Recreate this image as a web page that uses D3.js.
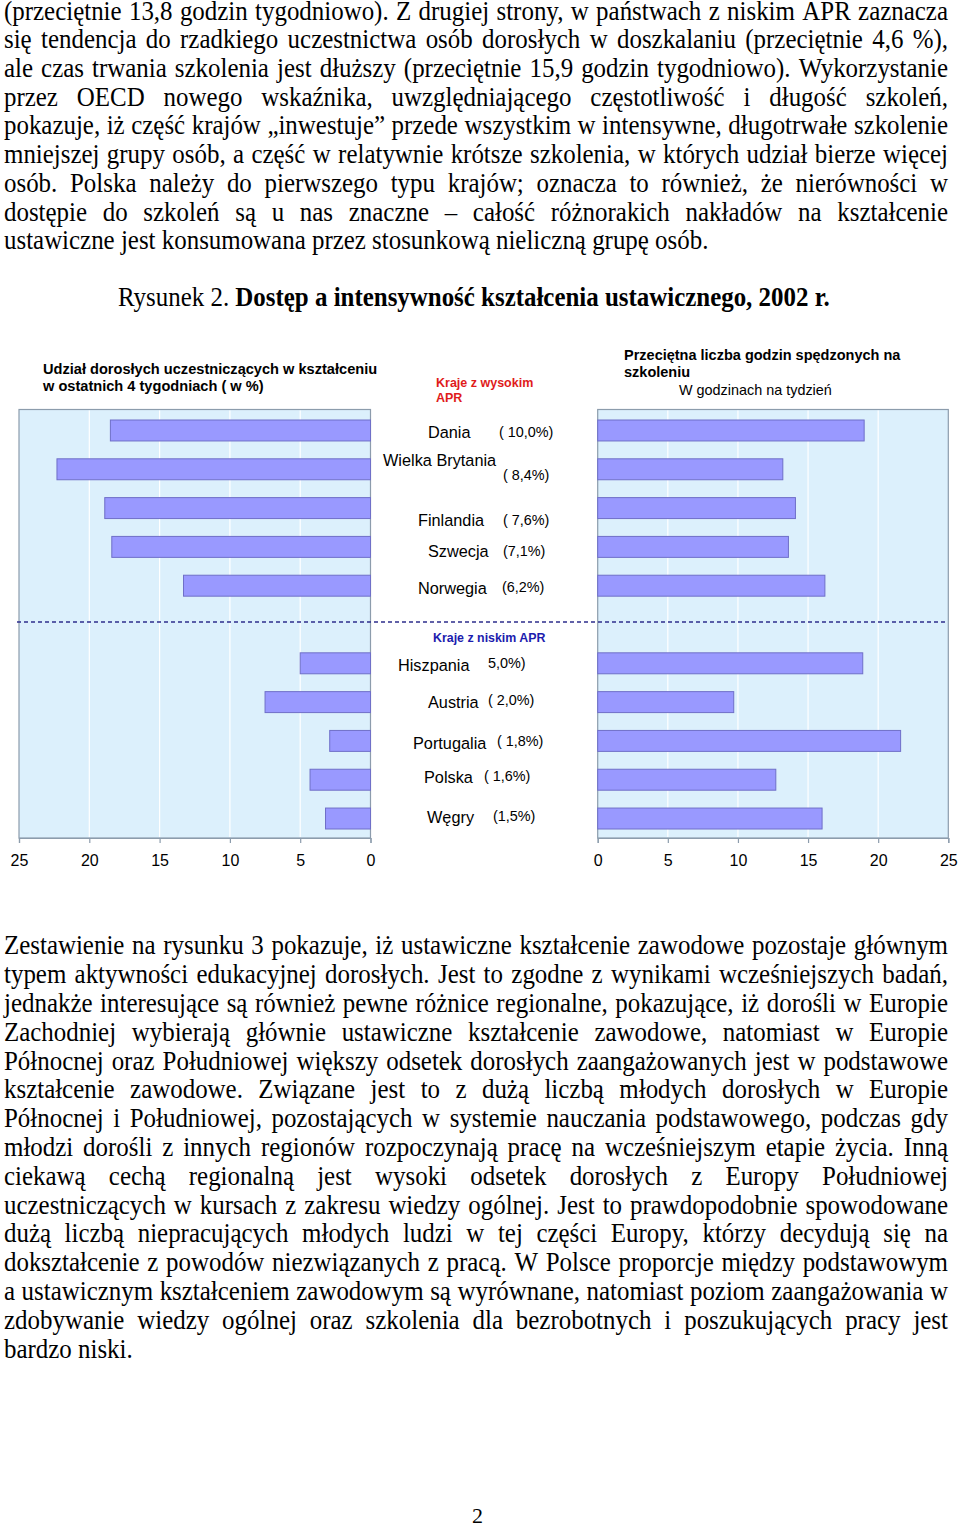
<!DOCTYPE html>
<html>
<head>
<meta charset="utf-8">
<script src="https://cdn.jsdelivr.net/npm/d3@7"></script>
<style>
  html, body { margin: 0; padding: 0; background: #fff; }
  body { width: 960px; height: 1524px; overflow: hidden; }
  svg { display: block; }
</style>
</head>
<body>
<svg id="page" width="960" height="1524"></svg>
<script>
// ---------------- DATA ----------------
const highCountries = ["Dania", "Wielka Brytania", "Finlandia", "Szwecja", "Norwegia"];
const lowCountries = ["Hiszpania", "Austria", "Portugalia", "Polska", "Węgry"];
const participationLabels = ["( 10,0%)", "( 8,4%)", "( 7,6%)", "(7,1%)", "(6,2%)",
                             "5,0%)", "( 2,0%)", "( 1,8%)", "( 1,6%)", "(1,5%)"];
// share of adults participating in last 4 weeks (left panel, %)
const shareValues = [18.5, 22.3, 18.9, 18.4, 13.3, 5.0, 7.5, 2.9, 4.3, 3.2];
// average hours per week spent in training (right panel)
const hoursValues = [19.0, 13.2, 14.1, 13.6, 16.2, 18.9, 9.7, 21.6, 12.7, 16.0];
const tickValues = [0, 5, 10, 15, 20, 25];
const gridValues = [5, 10, 15, 20];

const leftTitle = ["Udział dorosłych uczestniczących w kształceniu", "w ostatnich 4 tygodniach ( w %)"];
const rightTitle = ["Przeciętna liczba godzin spędzonych na", "szkoleniu"];
const rightSubtitle = "W godzinach na tydzień";
const highGroupLabel = ["Kraje z wysokim", "APR"];
const lowGroupLabel = "Kraje z niskim APR";

const paragraph1 = [
  "(przeciętnie 13,8 godzin tygodniowo). Z drugiej strony, w państwach z niskim APR zaznacza",
  "się tendencja do rzadkiego uczestnictwa osób dorosłych w doszkalaniu (przeciętnie 4,6 %),",
  "ale czas trwania szkolenia jest dłuższy (przeciętnie 15,9 godzin tygodniowo). Wykorzystanie",
  "przez OECD nowego wskaźnika, uwzględniającego częstotliwość i długość szkoleń,",
  "pokazuje, iż część krajów „inwestuje” przede wszystkim w intensywne, długotrwałe szkolenie",
  "mniejszej grupy osób, a część w relatywnie krótsze szkolenia, w których udział bierze więcej",
  "osób. Polska należy do pierwszego typu krajów; oznacza to również, że nierówności w",
  "dostępie do szkoleń są u nas znaczne – całość różnorakich nakładów na kształcenie",
  "ustawiczne jest konsumowana przez stosunkową nieliczną grupę osób."
];
const paragraph2 = [
  "Zestawienie na rysunku 3 pokazuje, iż ustawiczne kształcenie zawodowe pozostaje głównym",
  "typem aktywności edukacyjnej dorosłych. Jest to zgodne z wynikami wcześniejszych badań,",
  "jednakże interesujące są również pewne różnice regionalne, pokazujące, iż dorośli w Europie",
  "Zachodniej wybierają głównie ustawiczne kształcenie zawodowe, natomiast w Europie",
  "Północnej oraz Południowej większy odsetek dorosłych zaangażowanych jest w podstawowe",
  "kształcenie zawodowe. Związane jest to z dużą liczbą młodych dorosłych w Europie",
  "Północnej i Południowej, pozostających w systemie nauczania podstawowego, podczas gdy",
  "młodzi dorośli z innych regionów rozpoczynają pracę na wcześniejszym etapie życia. Inną",
  "ciekawą cechą regionalną jest wysoki odsetek dorosłych z Europy Południowej",
  "uczestniczących w kursach z zakresu wiedzy ogólnej. Jest to prawdopodobnie spowodowane",
  "dużą liczbą niepracujących młodych ludzi w tej części Europy, którzy decydują się na",
  "dokształcenie z powodów niezwiązanych z pracą. W Polsce proporcje między podstawowym",
  "a ustawicznym kształceniem zawodowym są wyrównane, natomiast poziom zaangażowania w",
  "zdobywanie wiedzy ogólnej oraz szkolenia dla bezrobotnych i poszukujących pracy jest",
  "bardzo niski."
];
const captionRegular = "Rysunek 2. ";
const captionBold = "Dostęp a intensywność kształcenia ustawicznego, 2002 r.";
const pageNumber = "2";

// ---------------- LAYOUT (positions / styles) ----------------
const labelLayout = {
  "Dania":           { x: 428, dy: 1.5,  px: 499, pdy: 1.5 },
  "Wielka Brytania": { x: 383, dy: -9.3, px: 503, pdy: 5.7 },
  "Finlandia":       { x: 418, dy: 12,   px: 503, pdy: 12 },
  "Szwecja":         { x: 428, dy: 4,    px: 503, pdy: 4 },
  "Norwegia":        { x: 418, dy: 2.3,  px: 502, pdy: 1.3 },
  "Hiszpania":       { x: 398, dy: 2,    px: 488, pdy: 0 },
  "Austria":         { x: 428, dy: 0,    px: 488, pdy: -2 },
  "Portugalia":      { x: 413, dy: 2,    px: 497, pdy: 0 },
  "Polska":          { x: 424, dy: -3,   px: 484, pdy: -4 },
  "Węgry":           { x: 427, dy: -1.7, px: 493, pdy: -2.7 }
};

const svg = d3.select("#page");
const SANS = "Arial, 'Liberation Sans', sans-serif";
const SERIF = "'Times New Roman', 'Liberation Serif', serif";
const barFill = "#9999ff", barStroke = "#6f6fc8";
const plotBg = "#dcf0fc", borderCol = "#8c9cac";

const plotTop = 409.5, plotBottom = 838;
const countries = highCountries.concat(["__gap__"], lowCountries);
const y = d3.scaleBand().domain(countries).range([420, 829]).paddingInner(0.46).paddingOuter(0);

const xL = d3.scaleLinear().domain([0, 25]).range([370.5, 19]);
const xR = d3.scaleLinear().domain([0, 25]).range([597.7, 948.3]);

const rows = highCountries.concat(lowCountries).map((c, i) => ({
  country: c, share: shareValues[i], hours: hoursValues[i], pct: participationLabels[i]
}));

function panel(x, valueKey) {
  const g = svg.append("g");
  const [r0, r1] = x.range();
  const xa = Math.min(r0, r1), xb = Math.max(r0, r1);
  g.append("rect").attr("x", xa).attr("y", plotTop).attr("width", xb - xa).attr("height", plotBottom - plotTop)
    .attr("fill", plotBg).attr("stroke", borderCol).attr("stroke-width", 1.2);
  g.selectAll("line.grid").data(gridValues).join("line").attr("class", "grid")
    .attr("x1", d => x(d)).attr("x2", d => x(d)).attr("y1", plotTop + 1).attr("y2", plotBottom - 1)
    .attr("stroke", "#ffffff").attr("stroke-width", 1.2);
  g.selectAll("rect.bar").data(rows).join("rect").attr("class", "bar")
    .attr("x", d => Math.min(x(0), x(d[valueKey])))
    .attr("width", d => Math.abs(x(d[valueKey]) - x(0)))
    .attr("y", d => y(d.country)).attr("height", y.bandwidth())
    .attr("fill", barFill).attr("stroke", barStroke).attr("stroke-width", 1);
  const axis = d3.axisBottom(x).tickValues(tickValues).tickSize(5).tickPadding(12).tickFormat(d3.format("d"));
  const ag = g.append("g").attr("transform", `translate(0,${plotBottom})`).call(axis);
  ag.select(".domain").attr("stroke", borderCol).attr("stroke-width", 1.2);
  ag.selectAll(".tick line").attr("stroke", borderCol).attr("stroke-width", 1.2);
  ag.selectAll(".tick text").attr("font-family", SANS).attr("font-size", 16).attr("fill", "#000");
}
panel(xL, "share");
panel(xR, "hours");

// dashed separator between the two country groups
const sepY = (y("Norwegia") + y.bandwidth() + y("Hiszpania")) / 2 - 2.5;
svg.append("line").attr("x1", 17).attr("x2", 946).attr("y1", sepY).attr("y2", sepY)
  .attr("stroke", "#2e2e8c").attr("stroke-width", 1.3).attr("stroke-dasharray", "4,3");

// country & percent labels
const lab = svg.append("g").attr("font-family", SANS).attr("fill", "#000");
lab.selectAll("text.country").data(rows).join("text").attr("class", "country")
  .attr("x", d => labelLayout[d.country].x)
  .attr("y", d => y(d.country) + y.bandwidth() / 2 + labelLayout[d.country].dy)
  .attr("dy", "0.36em").attr("font-size", 16.3).text(d => d.country);
lab.selectAll("text.pct").data(rows).join("text").attr("class", "pct")
  .attr("x", d => labelLayout[d.country].px)
  .attr("y", d => y(d.country) + y.bandwidth() / 2 + labelLayout[d.country].pdy)
  .attr("dy", "0.36em").attr("font-size", 14.4).text(d => d.pct);

// group labels
const hg = svg.append("text").attr("font-family", SANS).attr("font-weight", "bold").attr("font-size", 12.5).attr("fill", "#e01b1b");
hg.append("tspan").attr("x", 436).attr("y", 387).text(highGroupLabel[0]);
hg.append("tspan").attr("x", 436).attr("y", 402).text(highGroupLabel[1]);
svg.append("text").attr("x", 433).attr("y", 641.5).attr("font-family", SANS).attr("font-weight", "bold")
  .attr("font-size", 12.4).attr("fill", "#1c1cae").text(lowGroupLabel);

// panel titles
const lt = svg.append("text").attr("font-family", SANS).attr("font-weight", "bold").attr("font-size", 14.6).attr("fill", "#000");
lt.append("tspan").attr("x", 43).attr("y", 374).text(leftTitle[0]);
lt.append("tspan").attr("x", 43).attr("y", 391).text(leftTitle[1]);
const rt = svg.append("text").attr("font-family", SANS).attr("font-weight", "bold").attr("font-size", 14.5).attr("fill", "#000");
rt.append("tspan").attr("x", 624).attr("y", 359.5).attr("font-size", 14.5).text(rightTitle[0]);
rt.append("tspan").attr("x", 624).attr("y", 376.5).text(rightTitle[1]);
svg.append("text").attr("x", 679).attr("y", 394.5).attr("font-family", SANS).attr("font-size", 14.4)
  .attr("fill", "#000").text(rightSubtitle);

// ---------------- serif text (condensed Times look) ----------------
const BODY_FS = 28, SX = 0.89, LEFT = 4, RIGHT = 948;
const serifG = svg.append("g").attr("transform", `scale(${SX},1)`);
const measurer = serifG.append("text").attr("font-family", SERIF).attr("font-size", BODY_FS).attr("visibility", "hidden");
function wordWidth(w, bold) {
  measurer.attr("font-weight", bold ? "bold" : "normal").text(w);
  return measurer.node().getComputedTextLength();
}
const spaceW = (() => { measurer.text("a a"); const a = measurer.node().getComputedTextLength(); measurer.text("aa"); return a - measurer.node().getComputedTextLength(); })();

function drawParagraph(lines, baseline0, lh) {
  lines.forEach((line, i) => {
    const words = line.split(" ");
    const widths = words.map(w => wordWidth(w, false));
    const total = d3.sum(widths);
    const last = i === lines.length - 1;
    const avail = (RIGHT - LEFT) / SX;
    const gap = (last || words.length < 2) ? spaceW : (avail - total) / (words.length - 1);
    const t = serifG.append("text").attr("font-family", SERIF).attr("font-size", BODY_FS).attr("fill", "#000")
      .attr("y", baseline0 + i * lh);
    let xPos = LEFT / SX;
    words.forEach((w, k) => {
      t.append("tspan").attr("x", xPos).text(w + (k < words.length - 1 ? " " : ""));
      xPos += widths[k] + gap;
    });
  });
}
drawParagraph(paragraph1, 19.5, 28.75);
drawParagraph(paragraph2, 954.5, 28.8);

// caption
const cap = serifG.append("text").attr("x", 118 / SX).attr("y", 306).attr("font-family", SERIF)
  .attr("font-size", BODY_FS).attr("fill", "#000");
cap.append("tspan").text(captionRegular);
cap.append("tspan").attr("font-weight", "bold").text(captionBold);
measurer.remove();

svg.append("text").attr("x", 472).attr("y", 1523).attr("font-family", SERIF).attr("font-size", 22)
  .attr("fill", "#000").text(pageNumber);
</script>
</body>
</html>
